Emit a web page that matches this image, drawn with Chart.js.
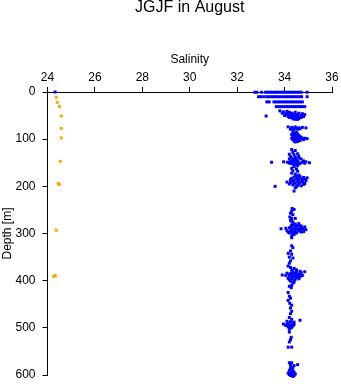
<!DOCTYPE html>
<html>
<head>
<meta charset="utf-8">
<script src="https://cdn.jsdelivr.net/npm/chart.js@4/dist/chart.umd.min.js"></script>
<style>
  html, body { margin: 0; padding: 0; background: #fff; }
</style>
</head>
<body>
<canvas id="salChart" width="341" height="384"></canvas>
<script>
// Axis ticks
const salinityTicks = [24, 26, 28, 30, 32, 34, 36];
const depthTicks = [0, 100, 200, 300, 400, 500, 600];

// Orange station: [salinity, depth]
const orangeCast = [
    [24.37, 11], [24.41, 22], [24.50, 31], [24.58, 51], [24.58, 77], [24.58, 97],
    [24.54, 147], [24.45, 194], [24.50, 196], [24.37, 293], [24.33, 389], [24.26, 391]
];

// Blue casts, read band by band: [salinity, depth]
const blueSurface = [
    [24.32, 0], [32.75, 0.5], [32.83, 0.5], [33.03, 0.5], [33.2, 0.5], [33.3, 0.5], [33.4, 0.5],
    [33.5, 0.5], [33.6, 0.5], [33.7, 0.5], [33.8, 0.5], [33.9, 0.5], [34.0, 0.5], [34.1, 0.5],
    [34.2, 0.5], [34.3, 0.5], [34.4, 0.5], [34.5, 0.5], [34.6, 0.5], [34.7, 0.5], [34.95, 0.5]
];
const blueRow10 = [
    [32.9, 10], [33.0, 10], [33.12, 10], [33.25, 10], [33.35, 10], [33.45, 10], [33.55, 10],
    [33.65, 10], [33.75, 10], [33.85, 10], [33.95, 10], [34.05, 10], [34.15, 10], [34.25, 10],
    [34.35, 10], [34.45, 10], [34.55, 10], [34.65, 10], [34.72, 10], [34.95, 10]
];
const blueRow21 = [
    [33.25, 21], [33.35, 21], [33.55, 21], [33.65, 21], [33.75, 21], [33.85, 21], [33.95, 21],
    [34.05, 21], [34.15, 21], [34.25, 21], [34.35, 21], [34.45, 21], [34.55, 21], [34.65, 21], [34.75, 21]
];
const blueRow31 = [
    [33.65, 31], [33.75, 31], [33.85, 31], [33.95, 31], [34.05, 31], [34.15, 31], [34.25, 31],
    [34.35, 31], [34.45, 31], [34.55, 31], [34.65, 31], [34.75, 31], [34.85, 31]
];
const blueBand50 = [
    [33.80, 40], [33.95, 42], [34.10, 41], [34.20, 43], [33.90, 45], [34.05, 46], [34.15, 46],
    [34.30, 45], [34.40, 47], [34.55, 48], [34.70, 49], [34.85, 48], [34.00, 50], [34.25, 50],
    [34.35, 51], [34.50, 52], [34.65, 53], [34.80, 52], [34.20, 54], [34.40, 55], [34.60, 56],
    [34.45, 58], [33.22, 51], [34.45, 43], [34.60, 45], [34.75, 46], [34.10, 48], [34.30, 48],
    [34.45, 50], [34.55, 51], [34.15, 52], [34.30, 54], [34.50, 55], [34.70, 54], [34.35, 57],
    [34.55, 58]
];
const blueBand90 = [
    [34.15, 74], [34.30, 75], [34.45, 74], [34.60, 76], [34.75, 75], [34.90, 76], [34.25, 79],
    [34.40, 80], [34.55, 79], [34.35, 84], [34.50, 86], [34.30, 90], [34.45, 91], [34.60, 92],
    [34.40, 96], [34.55, 97], [34.70, 96], [34.85, 98], [34.95, 99], [34.35, 101], [34.50, 102],
    [34.65, 103], [34.80, 101], [34.45, 106], [34.35, 77], [34.50, 77], [34.65, 78], [34.40, 88],
    [34.55, 89], [34.35, 94], [34.50, 94], [34.65, 95], [34.45, 99], [34.60, 100], [34.75, 99],
    [34.40, 104], [34.55, 105], [34.30, 98]
];
const blueBand140 = [
    [34.30, 122], [34.45, 124], [34.35, 128], [34.20, 132], [34.40, 133], [34.55, 131],
    [34.25, 137], [34.45, 138], [34.60, 136], [34.20, 142], [34.35, 143], [34.50, 144],
    [34.70, 142], [34.25, 147], [34.40, 148], [34.55, 147], [34.75, 149], [34.90, 148],
    [35.05, 150], [34.30, 152], [34.50, 153], [34.65, 152], [34.85, 151], [33.45, 149],
    [33.96, 148], [34.12, 149], [34.30, 140], [34.45, 141], [34.60, 140], [34.30, 150],
    [34.45, 150], [34.60, 150], [34.80, 146], [34.40, 145], [34.20, 151], [34.40, 155], [34.55, 156]
];
const blueBand190 = [
    [34.40, 158], [34.30, 162], [34.50, 163], [34.35, 167], [34.55, 168], [34.30, 172],
    [34.45, 174], [34.60, 176], [34.40, 180], [34.55, 181], [34.80, 181], [34.95, 182],
    [34.25, 186], [34.40, 187], [34.60, 186], [34.75, 187], [34.90, 188], [34.10, 191],
    [34.25, 192], [34.45, 193], [34.65, 192], [34.85, 194], [34.35, 197], [34.55, 198],
    [34.70, 199], [34.45, 203], [34.40, 210], [33.60, 200], [34.50, 178], [34.65, 179],
    [34.30, 183], [34.50, 184], [34.70, 184], [34.85, 185], [34.35, 189], [34.55, 190],
    [34.75, 190], [34.20, 195], [34.40, 195], [34.60, 195], [34.80, 196], [34.50, 201]
];
const blueBand260 = [
    [34.32, 247], [34.40, 249], [34.30, 253], [34.25, 257], [34.35, 260], [34.22, 265],
    [34.30, 268], [34.45, 268], [34.25, 272], [34.35, 276], [34.30, 282], [34.55, 283]
];
const blueBand290 = [
    [34.30, 274], [34.45, 280], [34.60, 279], [34.30, 284], [34.50, 285], [34.70, 284],
    [34.85, 286], [33.85, 290], [34.05, 289], [34.20, 288], [34.35, 290], [34.55, 291],
    [34.75, 290], [34.90, 292], [34.10, 294], [34.25, 295], [34.40, 296], [34.60, 295],
    [34.80, 296], [34.20, 299], [34.35, 300], [34.50, 299], [34.30, 309], [34.40, 282],
    [34.60, 283], [34.25, 287], [34.45, 287], [34.65, 288], [34.80, 289], [34.30, 292],
    [34.45, 293], [34.65, 293], [34.15, 297], [34.30, 297], [34.45, 298], [34.70, 297],
    [34.40, 302], [34.30, 305]
];
const blueBand345 = [
    [34.30, 326], [34.35, 330], [34.25, 337], [34.15, 342], [34.30, 344], [34.20, 350],
    [34.35, 352], [34.25, 358], [34.20, 363], [34.15, 369]
];
const blueBand390 = [
    [34.25, 372], [34.40, 374], [34.30, 378], [34.50, 377], [34.65, 380], [34.85, 381],
    [34.10, 384], [34.25, 385], [34.45, 384], [34.60, 386], [33.90, 388], [34.05, 389],
    [34.20, 390], [34.40, 391], [34.55, 390], [34.75, 389], [34.15, 395], [34.30, 396],
    [34.45, 397], [34.60, 396], [34.25, 401], [34.40, 403], [34.30, 410], [34.35, 381],
    [34.50, 382], [34.70, 383], [34.20, 387], [34.35, 387], [34.50, 388], [34.65, 389],
    [34.30, 392], [34.50, 393], [34.65, 392], [34.20, 398], [34.40, 399], [34.35, 405]
];
const blueBand440 = [
    [34.20, 412], [34.28, 415], [34.15, 425], [34.20, 433], [34.25, 437], [34.15, 442],
    [34.22, 448], [34.30, 452], [34.25, 458], [34.30, 465], [34.25, 470]
];
const blueBand490 = [
    [34.20, 478], [34.30, 482], [34.10, 486], [34.25, 487], [34.40, 488], [34.65, 484],
    [33.95, 492], [34.10, 493], [34.25, 494], [34.40, 493], [34.15, 498], [34.30, 499],
    [34.20, 503], [34.15, 490], [34.35, 490], [34.05, 495], [34.20, 496], [34.35, 496], [34.25, 500]
];
const blueBand525 = [
    [34.20, 509], [34.28, 520], [34.25, 525], [34.20, 530], [34.15, 541], [34.30, 541]
];
const blueBand590 = [
    [34.20, 574], [34.30, 574], [34.55, 578], [34.40, 580], [34.25, 585], [34.20, 590],
    [34.35, 591], [34.15, 596], [34.30, 597], [34.45, 598], [34.25, 601], [34.35, 603],
    [34.25, 579], [34.35, 584], [34.30, 588], [34.25, 594], [34.40, 594], [34.20, 599], [34.40, 601]
];

const blueCasts = [].concat(
    blueSurface, blueRow10, blueRow21, blueRow31, blueBand50, blueBand90, blueBand140,
    blueBand190, blueBand260, blueBand290, blueBand345, blueBand390, blueBand440,
    blueBand490, blueBand525, blueBand590
);

function toPoints(pairs) {
    return pairs.map(p => ({ x: p[0], y: p[1] }));
}

const fontFamily = '"Liberation Sans", Arial, Helvetica, sans-serif';

const ctx = document.getElementById('salChart').getContext('2d');
const salChart = new Chart(ctx, {
    type: 'scatter',
    data: {
        datasets: [{
            label: 'blue',
            data: toPoints(blueCasts),
            backgroundColor: '#0000ff',
            borderWidth: 0,
            pointStyle: 'rect',
            pointRadius: 2.1,
            clip: false
        }, {
            label: 'orange',
            data: toPoints(orangeCast),
            backgroundColor: '#ffa500',
            borderWidth: 0,
            pointStyle: 'rect',
            pointRadius: 2.1,
            clip: false
        }]
    },
    options: {
        responsive: false,
        animation: false,
        layout: {
            padding: { left: 0, right: 9, top: 0, bottom: 9 }
        },
        scales: {
            x: {
                type: 'linear',
                position: 'top',
                min: 24,
                max: 36,
                afterBuildTicks: scale => {
                    scale.ticks = salinityTicks.map(v => ({ value: v }));
                },
                afterFit: scale => {
                    // keep label overhang from pushing the plot area around
                    scale.paddingLeft = 0;
                    scale.paddingRight = 0;
                },
                ticks: {
                    color: '#000',
                    padding: 2,
                    maxRotation: 0,
                    font: { family: fontFamily, size: 12 }
                },
                grid: {
                    drawOnChartArea: false,
                    drawTicks: true,
                    tickLength: 5,
                    color: '#000'
                },
                border: { display: true, color: '#000', width: 1 },
                title: {
                    display: true,
                    text: 'Salinity',
                    color: '#000',
                    padding: { top: 0, bottom: 1.4 },
                    font: { family: fontFamily, size: 12 }
                }
            },
            y: {
                type: 'linear',
                reverse: true,
                min: 0,
                max: 600,
                afterBuildTicks: scale => {
                    scale.ticks = depthTicks.map(v => ({ value: v }));
                },
                afterFit: scale => {
                    scale.width = 47.5;
                    scale.paddingTop = 0;
                    scale.paddingBottom = 0;
                },
                ticks: {
                    color: '#000',
                    padding: 7,
                    font: { family: fontFamily, size: 12 }
                },
                grid: {
                    drawOnChartArea: false,
                    drawTicks: true,
                    tickLength: 5,
                    color: '#000'
                },
                border: { display: true, color: '#000', width: 1 },
                title: {
                    display: true,
                    text: 'Depth [m]',
                    color: '#000',
                    padding: { top: 0, bottom: 1.1 },
                    font: { family: fontFamily, size: 12 }
                }
            }
        },
        plugins: {
            legend: { display: false },
            tooltip: { enabled: false },
            title: {
                display: true,
                text: 'JGJF in August',
                color: '#000',
                fullSize: false,
                padding: { top: 0, bottom: 36.8 },
                font: { family: fontFamily, size: 16, weight: 'normal', lineHeight: 1 }
            }
        }
    }
});
</script>
</body>
</html>
